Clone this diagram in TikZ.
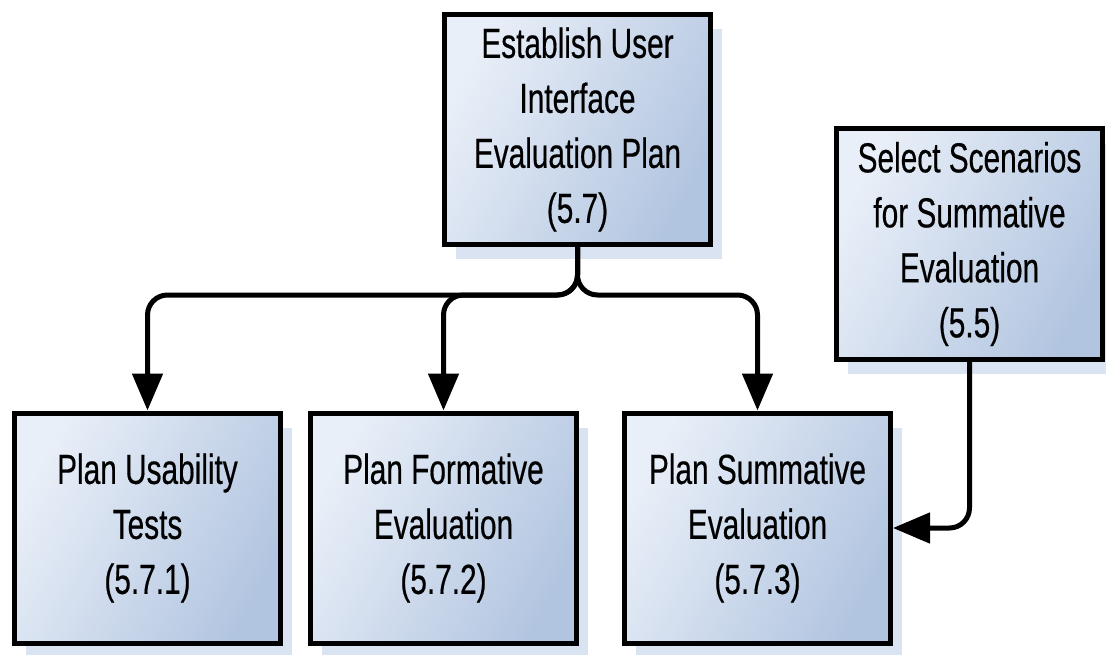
\documentclass[tikz,border=0pt]{standalone}
\usepackage{fontspec}
\setmainfont[FakeStretch=0.71,FakeBold=0.4]{Liberation Sans}
\usepackage{xcolor,tikz}
\usetikzlibrary{arrows.meta,shadows}
\definecolor{boxlight}{RGB}{233,239,248}
\definecolor{boxdark}{RGB}{178,197,224}
\definecolor{shadowblue}{RGB}{218,227,241}

\begin{document}
\begin{tikzpicture}[x=1pt,y=-1pt,
task/.style={draw,line width=5pt,align=center,
  minimum width=266pt,minimum height=230pt,inner sep=0pt,
  top color=boxlight,bottom color=boxdark,shading angle=62,
  font=\fontsize{42}{55}\selectfont,
  drop shadow={shadow xshift=11pt,shadow yshift=-15pt,fill=shadowblue,opacity=1}},
arr/.style={-{Triangle[length=37pt,width=30pt]},line width=5pt,rounded corners=20pt}]
\useasboundingbox (0,0) rectangle (1106,655);
\node[task] (plan) at (577.5,129.5) {Establish User\\Interface\\Evaluation Plan\\(5.7)};
\node[task] (scen) at (969.5,244) {Select Scenarios\\for Summative\\Evaluation\\(5.5)};
\node[task] (usab) at (147.5,528) {Plan Usability\\Tests\\(5.7.1)};
\node[task] (form) at (443.5,528) {Plan Formative\\Evaluation\\(5.7.2)};
\node[task] (summ) at (757.5,528) {Plan Summative\\Evaluation\\(5.7.3)};
\draw[arr] (plan.south) -- ++(0,48) -| (usab.north);
\draw[arr] (plan.south) -- ++(0,48) -| (form.north);
\draw[arr] (plan.south) -- ++(0,48) -| (summ.north);
\draw[arr] (scen.south) |- (summ.east);
\end{tikzpicture}
\end{document}
